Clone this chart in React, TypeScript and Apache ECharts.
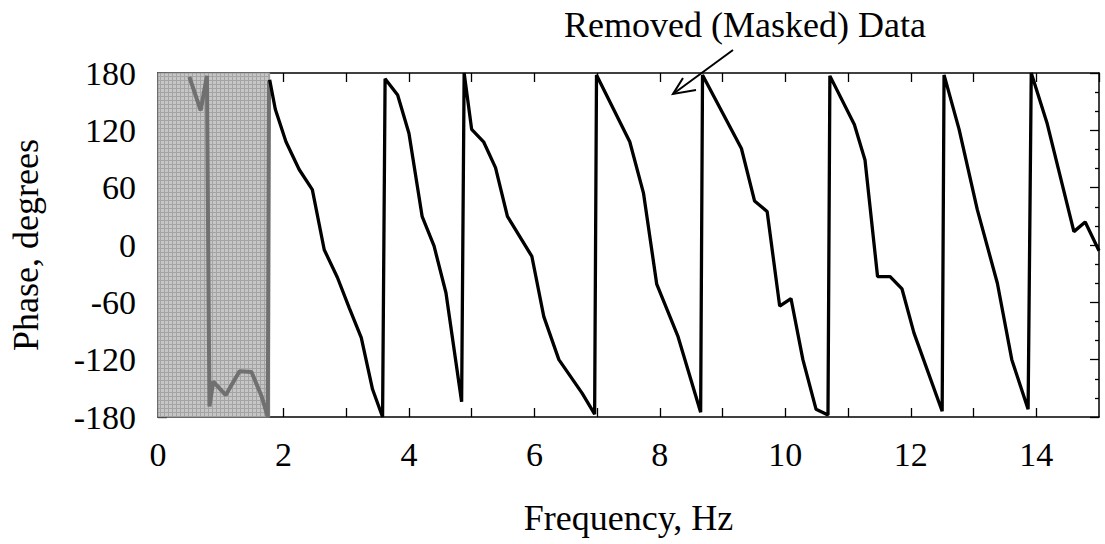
import React, { useEffect, useRef } from "react";
import * as echarts from "echarts";

// Measured (unmasked) phase data
const freqHz = [
  1.78, 1.87, 2.04, 2.25, 2.46, 2.65, 2.86, 3.05, 3.24, 3.42, 3.58,
  3.62, 3.82, 4.0, 4.21, 4.4, 4.59, 4.84,
  4.88, 5.0, 5.19, 5.38, 5.57, 5.96, 6.15, 6.39, 6.76, 6.96,
  6.99, 7.52, 7.74, 7.95, 8.29, 8.65,
  8.68, 9.3, 9.51, 9.71, 9.91, 10.09, 10.28, 10.49, 10.68,
  10.71, 11.1, 11.27, 11.47, 11.67, 11.86, 12.05, 12.5,
  12.53, 12.77, 13.06, 13.38, 13.61, 13.87,
  13.92, 14.17, 14.6, 14.78, 15.0,
];
const phaseDeg = [
  173, 142, 108, 79, 58, -5, -34, -66, -97, -151, -180,
  174, 157, 117, 30, -1, -50, -164,
  180, 121, 108, 81, 30, -12, -75, -120, -155, -177,
  178, 108, 54, -41, -96, -175,
  178, 101, 46, 35, -64, -56, -120, -172, -178,
  177, 126, 89, -33, -33, -46, -92, -174,
  178, 121, 37, -40, -120, -172,
  180, 128, 14, 24, -6,
];

// Removed (masked) data
const maskedFreqHz = [0.5, 0.68, 0.78, 0.82, 0.88, 1.08, 1.3, 1.49, 1.65, 1.75, 1.77];
const maskedPhaseDeg = [176, 141, 177, -169, -143, -157, -132, -133, -158, -180, 172];

// Masked band (Hz)
const maskRange = [0, 1.78];

// Axis settings
const xRange = [0, 15];
const yRange = [-180, 180];
const yInterval = 60;

const annotationText = "Removed (Masked) Data";
const xTitle = "Frequency, Hz";
const yTitle = "Phase, degrees";

const FONT = "Liberation Serif";

function makeMaskPattern(): any {
  const c = document.createElement("canvas");
  c.width = 4;
  c.height = 4;
  const ctx = c.getContext("2d");
  if (!ctx) return "#bdbdbd";
  ctx.fillStyle = "#c6c6c6";
  ctx.fillRect(0, 0, 4, 4);
  ctx.fillStyle = "#a4a4a4";
  ctx.fillRect(0, 0, 4, 1);
  ctx.fillRect(0, 0, 1, 4);
  return { image: c, repeat: "repeat", imageWidth: 4, imageHeight: 4 };
}

export default function App() {
  const ref = useRef<HTMLDivElement>(null);

  useEffect(() => {
    if (!ref.current) return;
    const chart = echarts.init(ref.current, null, { renderer: "svg" });

    const mainData = freqHz.map((f, i) => [f, phaseDeg[i]]);
    const maskedData = maskedFreqHz.map((f, i) => [f, maskedPhaseDeg[i]]);

    const xBase = {
      type: "value",
      min: xRange[0],
      max: xRange[1],
      interval: 1,
      axisLine: { show: true, onZero: false, lineStyle: { color: "#000", width: 1.5 } },
      axisTick: { show: true, inside: true, length: 9, lineStyle: { color: "#000", width: 1.3 } },
      splitLine: { show: false },
    };
    const yBase = {
      type: "value",
      min: yRange[0],
      max: yRange[1],
      interval: yInterval,
      axisLine: { show: true, onZero: false, lineStyle: { color: "#000", width: 1.5 } },
      axisTick: { show: true, inside: true, length: 9, lineStyle: { color: "#000", width: 1.3 } },
      minorTick: { show: true, splitNumber: 3, length: 4, lineStyle: { color: "#000", width: 1.3 } },
      splitLine: { show: false },
    };

    chart.setOption({
      animation: false,
      backgroundColor: "#fff",
      textStyle: { fontFamily: FONT },
      grid: { left: 155, right: 6, top: 73, bottom: 127, containLabel: false },
      xAxis: [
        {
          ...xBase,
          position: "bottom",
          name: xTitle,
          nameLocation: "middle",
          nameGap: 83,
          nameTextStyle: { fontFamily: FONT, fontSize: 36, color: "#000" },
          axisLabel: {
            show: true,
            margin: 20,
            fontFamily: FONT,
            fontSize: 34,
            color: "#000",
            showMaxLabel: false,
            formatter: (v: number) => (v % 2 === 0 ? String(v) : ""),
          },
        },
        { ...xBase, position: "top", axisLabel: { show: false } },
      ],
      yAxis: [
        {
          ...yBase,
          position: "left",
          name: yTitle,
          nameLocation: "middle",
          nameGap: 114,
          nameRotate: 90,
          nameTextStyle: { fontFamily: FONT, fontSize: 36, color: "#000" },
          axisLabel: {
            show: true,
            margin: 22,
            fontFamily: FONT,
            fontSize: 34,
            color: "#000",
            showMinLabel: true,
            showMaxLabel: true,
          },
        },
        { ...yBase, position: "right", axisLabel: { show: false } },
      ],
      series: [
        {
          name: "masked",
          type: "line",
          xAxisIndex: 0,
          yAxisIndex: 0,
          data: maskedData,
          showSymbol: false,
          symbol: "none",
          lineStyle: { color: "#707070", width: 4 },
          z: 3,
          markArea: {
            silent: true,
            itemStyle: { color: makeMaskPattern(), borderColor: "#9a9a9a", borderWidth: 1 },
            data: [[{ xAxis: maskRange[0] }, { xAxis: maskRange[1] }]],
            z: 1,
          },
        },
        {
          name: "phase",
          type: "line",
          xAxisIndex: 0,
          yAxisIndex: 0,
          data: mainData,
          showSymbol: false,
          symbol: "none",
          lineStyle: { color: "#000", width: 3.3 },
          z: 4,
        },
      ],
      graphic: [
        {
          type: "text",
          x: 745,
          y: 25,
          style: {
            text: annotationText,
            fontFamily: FONT,
            fontSize: 36,
            fill: "#000",
            textAlign: "center",
            textVerticalAlign: "middle",
          },
          z: 10,
        },
        {
          type: "line",
          shape: { x1: 733, y1: 50, x2: 673, y2: 94 },
          style: { stroke: "#000", lineWidth: 2 },
          z: 10,
        },
        {
          type: "polyline",
          shape: { points: [[683, 78], [673, 94], [696, 90]] },
          style: { stroke: "#000", lineWidth: 2, fill: "none" },
          z: 10,
        },
      ],
    });

    return () => chart.dispose();
  }, []);

  return (
    <div
      ref={ref}
      style={{ position: "absolute", left: 0, top: 0, width: 1105, height: 544 }}
    />
  );
}
